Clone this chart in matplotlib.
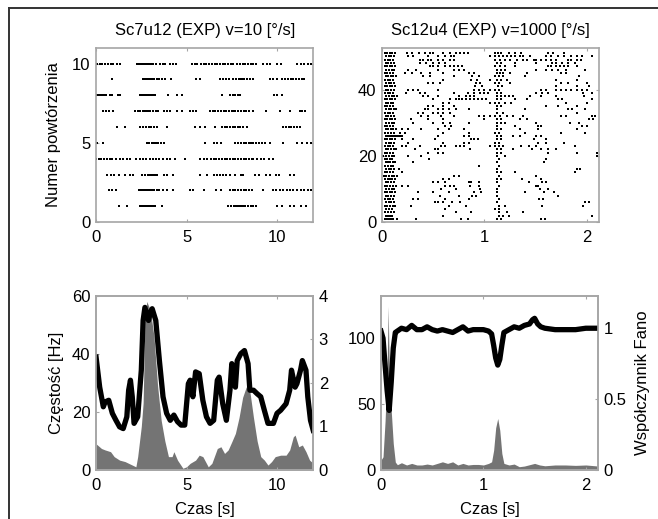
import matplotlib
matplotlib.use("Agg")
import matplotlib.pyplot as plt
from matplotlib.lines import Line2D

plt.rcParams["font.family"] = ["Liberation Sans", "DejaVu Sans"]
plt.rcParams["font.size"] = 12

# ---- data -------------------------------------------------------------
# raster Sc7u12, trials 1..10, spike times [s]
slow_trials = [
    [1.25, 1.7, 2.45, 2.55, 2.65, 2.75, 2.85, 2.95, 3.05, 3.15, 3.25, 3.65,
     7.3, 7.45, 7.6, 7.75, 7.85, 7.95, 8.05, 8.15, 8.25, 8.4, 8.55, 8.7, 8.85,
     10.0, 10.3, 10.7, 10.95, 11.3, 11.6],
    [0.7, 0.9, 1.1, 2.35, 2.5, 2.6, 2.7, 2.8, 2.9, 3.0, 3.1, 3.2, 3.35, 3.5,
     3.7, 3.9, 4.25, 5.2, 5.35, 5.95, 6.65, 6.9, 7.4, 7.55, 7.7, 7.85, 8.0,
     8.15, 8.3, 8.45, 8.6, 9.25, 9.8, 9.95, 10.15, 10.35, 10.55, 10.7, 10.9,
     11.1, 11.3, 11.5, 11.7, 11.9],
    [0.6, 0.85, 1.0, 1.25, 1.6, 1.85, 2.05, 2.55, 2.7, 2.85, 2.95, 3.05, 3.15,
     3.25, 3.35, 3.75, 3.9, 4.25, 5.75, 6.15, 6.5, 6.7, 6.85, 7.0, 7.2, 7.4,
     7.7, 8.0, 8.1, 8.8, 9.0, 9.4, 9.6, 9.95, 10.1, 10.7, 10.95],
    [0.0, 0.15, 0.3, 0.45, 0.6, 0.75, 0.9, 1.1, 1.3, 1.5, 1.7, 1.85, 2.2,
     2.45, 2.6, 2.75, 3.0, 3.15, 3.3, 3.5, 3.7, 3.9, 4.1, 4.35, 4.9, 5.75,
     5.95, 6.15, 6.35, 6.5, 6.65, 6.8, 6.95, 7.1, 7.25, 7.4, 7.55, 7.7, 7.85,
     8.0, 8.15, 8.3, 8.45, 8.6, 8.7, 8.9, 9.1, 9.3, 9.55, 9.8],
    [0.05, 0.4, 2.8, 2.95, 3.1, 3.2, 3.3, 3.45, 3.6, 3.75, 6.0, 6.5, 6.7,
     6.9, 7.7, 7.85, 8.0, 8.15, 8.3, 8.45, 8.55, 8.7, 8.85, 9.0, 9.15, 9.35,
     9.6, 10.35, 11.1, 11.4, 11.65, 11.9],
    [1.15, 1.6, 2.45, 2.6, 2.75, 2.9, 3.05, 3.2, 3.35, 3.9, 5.45, 5.75, 6.0,
     6.6, 6.95, 7.1, 7.25, 7.4, 7.55, 7.7, 7.85, 7.95, 8.1, 8.35, 10.35,
     10.5, 10.65, 10.8, 10.95, 11.1, 11.25],
    [0.4, 0.55, 0.7, 0.95, 2.15, 2.3, 2.45, 2.6, 2.7, 2.8, 2.9, 3.0, 3.15,
     3.3, 3.45, 3.75, 3.9, 4.1, 4.45, 4.75, 5.2, 5.35, 5.5, 6.3, 6.45, 6.6,
     6.75, 6.9, 7.05, 7.2, 7.35, 7.5, 7.6, 7.7, 7.85, 8.0, 8.15, 8.3, 8.45,
     8.65, 9.4, 10.15, 10.7, 11.25, 11.4, 11.55],
    [0.05, 0.15, 0.25, 0.35, 0.45, 0.55, 0.75, 0.9, 1.2, 1.3, 2.45, 2.55,
     2.65, 2.75, 2.85, 2.95, 3.05, 3.15, 3.25, 4.0, 4.45, 4.75, 6.95, 7.4,
     7.55, 7.7, 7.85, 7.95, 9.85, 10.0, 10.25],
    [0.87, 2.6, 2.7, 2.8, 2.9, 3.0, 3.1, 3.2, 3.35, 3.5, 3.65, 3.8, 4.15,
     5.55, 5.75, 6.85, 7.0, 7.2, 7.35, 7.55, 7.75, 7.9, 8.0, 8.1, 8.2, 8.35,
     8.5, 8.65, 9.6, 9.8, 10.0, 10.3, 10.45, 10.6, 10.75, 10.9, 11.05, 11.2,
     11.4, 11.5],
    [0.05, 0.2, 0.35, 0.5, 0.65, 0.8, 0.95, 1.15, 1.35, 2.25, 2.35, 2.45,
     2.55, 2.65, 2.75, 2.85, 2.95, 3.05, 3.15, 3.3, 3.55, 3.7, 3.8, 4.1,
     4.25, 4.4, 5.3, 5.45, 5.6, 5.8, 5.95, 6.1, 6.25, 6.4, 6.55, 6.7, 6.85,
     7.0, 7.15, 7.3, 7.45, 7.55, 7.8, 7.95, 8.1, 8.25, 8.4, 8.55, 8.7, 8.85,
     9.25, 9.45, 9.6, 10.0, 10.2, 11.1, 11.3, 11.5, 11.7, 11.9],
]

# raster Sc12u4, trials 1..51, spike times [s]
fast_trials = [
    [0.03, 0.05, 0.07, 0.09, 0.11, 0.15, 0.33, 0.77, 0.84, 1.12, 1.16, 1.55, 1.59],
    [0.04, 0.06, 0.08, 0.1, 0.6, 1.14, 1.18, 1.24, 2.05],
    [0.03, 0.06, 0.09, 0.12, 0.72, 0.87, 1.14, 1.22, 1.38],
    [0.04, 0.07, 0.1, 0.62, 1.1, 1.14],
    [0.03, 0.05, 0.08, 0.11, 0.13, 0.28, 0.65, 0.82, 1.14, 1.2, 1.56, 1.96],
    [0.04, 0.07, 0.09, 0.12, 0.52, 0.55, 0.6, 0.68, 0.76, 1.12, 1.98, 2.02],
    [0.03, 0.06, 0.08, 0.11, 0.3, 0.35, 0.62, 0.85, 1.14, 1.53, 1.57],
    [0.04, 0.06, 0.09, 0.12, 0.57, 0.75, 0.88, 0.92, 1.12, 1.72],
    [0.03, 0.05, 0.08, 0.1, 0.13, 0.35, 0.5, 0.65, 0.9, 0.97, 1.12, 1.4, 1.58, 1.68],
    [0.04, 0.07, 0.1, 0.12, 0.58, 0.72, 0.96, 1.12, 1.54, 1.62],
    [0.03, 0.05, 0.08, 0.11, 0.14, 0.2, 0.25, 0.62, 0.66, 0.7, 0.86, 0.95, 1.14, 1.5, 1.52],
    [0.04, 0.06, 0.09, 0.12, 0.5, 0.55, 0.62, 0.85, 0.87, 0.95, 1.12, 1.44, 1.56, 1.6],
    [0.03, 0.06, 0.08, 0.1, 0.13, 0.6, 0.65, 1.12, 1.16, 1.37, 1.55],
    [0.02, 0.04, 0.07, 0.1, 0.12, 0.15, 0.7, 0.75, 1.14, 1.5],
    [0.03, 0.05, 0.08, 0.11, 0.2, 1.12, 1.16, 1.3, 1.88],
    [0.04, 0.07, 0.09, 0.12, 0.17, 1.12, 1.9, 1.93],
    [0.03, 0.06, 0.09, 0.11, 0.95, 1.14],
    [0.04, 0.06, 0.08, 0.11, 0.13, 0.3, 1.12, 1.58],
    [0.03, 0.05, 0.08, 0.1, 0.46, 1.14, 1.6],
    [0.01, 0.04, 0.07, 0.1, 0.12, 0.25, 0.38, 1.12, 1.2, 2.1],
    [0.03, 0.05, 0.08, 0.11, 0.45, 0.55, 0.6, 1.12, 1.16, 1.62, 1.9, 2.1],
    [0.04, 0.06, 0.09, 0.12, 0.14, 0.32, 0.52, 0.55, 0.86, 1.12, 1.16, 1.28, 1.46,
     1.55, 1.62, 1.7],
    [0.03, 0.06, 0.08, 0.11, 0.2, 0.23, 0.37, 0.58, 0.62, 0.72, 0.76, 0.8, 1.05,
     1.1, 1.14, 1.18, 1.36, 1.44, 1.5, 1.88],
    [0.04, 0.07, 0.09, 0.12, 0.25, 0.6, 0.8, 0.85, 1.1, 1.14, 1.52, 1.6, 1.78],
    [0.03, 0.05, 0.08, 0.1, 0.13, 0.2, 0.3, 0.52, 0.87, 0.9, 0.94, 1.12, 1.16,
     1.48, 1.6],
    [0.04, 0.06, 0.08, 0.1, 0.12, 0.14, 0.16, 0.18, 0.2, 0.55, 0.8, 0.85, 1.12,
     1.16, 1.28, 1.35, 1.5, 1.55],
    [0.03, 0.06, 0.09, 0.12, 0.18, 0.22, 0.6, 0.85, 1.1, 1.14, 1.4, 1.75, 1.98],
    [0.04, 0.06, 0.09, 0.11, 0.14, 0.2, 0.25, 0.38, 0.55, 0.65, 0.8, 1.12, 1.16,
     1.35, 1.52, 1.9],
    [0.03, 0.05, 0.08, 0.11, 0.62, 0.67, 1.12, 1.3, 1.52, 1.55, 1.95, 2.0],
    [0.04, 0.07, 0.1, 0.12, 0.3, 0.5, 0.6, 0.66, 0.85, 1.12, 1.16, 1.2, 1.5,
     1.84, 1.92],
    [0.03, 0.05, 0.08, 0.1, 0.13, 0.28, 0.45, 0.6, 1.0, 1.12, 1.16, 1.35, 1.42,
     2.02, 2.06],
    [0.04, 0.06, 0.09, 0.12, 0.38, 0.45, 0.58, 0.7, 0.95, 1.0, 1.05, 1.1, 1.15,
     1.22, 1.28, 1.38, 1.75, 1.8, 2.05, 2.08],
    [0.03, 0.06, 0.08, 0.11, 0.35, 0.4, 0.5, 0.55, 0.6, 0.66, 1.12, 1.18, 1.9],
    [0.04, 0.07, 0.09, 0.12, 0.14, 0.42, 0.45, 0.55, 0.6, 0.65, 0.72, 0.85, 1.12,
     1.4, 1.82, 1.86, 1.98],
    [0.03, 0.05, 0.08, 0.11, 0.45, 0.5, 0.6, 0.7, 1.12, 1.16, 1.6, 1.72, 1.9],
    [0.04, 0.06, 0.09, 0.11, 0.6, 0.65, 1.05, 1.1, 1.14, 1.2, 1.26, 1.8, 2.0],
    [0.03, 0.05, 0.08, 0.1, 0.13, 0.5, 0.66, 0.72, 0.75, 0.78, 0.82, 0.86, 0.9,
     0.94, 0.98, 1.02, 1.12, 1.16, 1.3, 1.42, 1.72, 1.76, 2.05],
    [0.04, 0.07, 0.1, 0.12, 0.15, 0.4, 0.45, 0.55, 0.75, 0.82, 0.86, 0.9, 1.12,
     1.16, 1.2, 1.24, 1.28, 1.45, 1.55, 1.7, 1.97],
    [0.03, 0.06, 0.08, 0.11, 0.23, 0.37, 0.42, 0.7, 0.84, 0.9, 0.96, 1.0, 1.04,
     1.12, 1.16, 1.5, 1.56, 1.62, 1.96, 2.05],
    [0.04, 0.06, 0.09, 0.12, 0.25, 0.3, 0.35, 0.55, 0.9, 0.95, 1.0, 1.05, 1.1,
     1.14, 1.55, 1.6, 1.7, 1.75, 1.8, 1.85, 1.9, 1.95, 2.0],
    [0.03, 0.05, 0.08, 0.1, 0.13, 0.91, 0.98, 1.13, 1.17, 1.7, 1.9, 2.02],
    [0.04, 0.07, 0.09, 0.12, 0.45, 0.5, 0.57, 0.92, 0.96, 1.1, 1.14, 1.25, 1.75,
     1.82, 2.0],
    [0.03, 0.06, 0.08, 0.11, 0.6, 0.87, 0.93, 1.05, 1.12, 1.16, 1.22, 1.7, 1.9],
    [0.04, 0.06, 0.09, 0.11, 0.14, 0.4, 0.47, 0.7, 0.88, 0.95, 1.1, 1.14, 1.18,
     1.4, 1.92],
    [0.03, 0.05, 0.08, 0.11, 0.22, 0.29, 0.38, 0.47, 0.6, 0.85, 0.9, 1.12, 1.15,
     1.18, 1.25, 1.42, 1.75, 1.8],
    [0.04, 0.07, 0.1, 0.12, 0.25, 0.33, 0.55, 0.7, 0.75, 0.8, 1.12, 1.16, 1.2,
     1.5, 1.6, 1.66, 1.72, 1.8, 1.98],
    [0.03, 0.05, 0.08, 0.1, 0.13, 0.47, 0.5, 0.55, 0.62, 0.66, 0.7, 0.74, 0.78,
     1.1, 1.15, 1.2, 1.3, 1.62, 1.65, 1.7, 1.74, 1.78, 1.82, 1.9],
    [0.04, 0.06, 0.09, 0.12, 0.37, 0.43, 0.5, 0.56, 0.62, 1.12, 1.16, 1.3, 1.5,
     1.66, 1.7, 1.76, 1.82, 1.88],
    [0.03, 0.06, 0.08, 0.11, 0.37, 0.4, 0.45, 0.48, 0.55, 0.6, 0.66, 0.7, 1.1,
     1.15, 1.2, 1.25, 1.32, 1.38, 1.42, 1.48, 1.5, 1.55, 1.6, 1.65, 1.7, 1.82,
     1.85, 1.9, 1.94],
    [0.04, 0.07, 0.09, 0.12, 0.25, 0.3, 0.45, 0.55, 0.62, 0.67, 0.7, 1.05, 1.1,
     1.14, 1.18, 1.22, 1.26, 1.3, 1.35, 1.38, 1.45, 1.6, 1.65, 1.72, 1.78, 1.85,
     1.9, 1.95, 2.05],
    [0.03, 0.05, 0.08, 0.1, 0.13, 0.24, 0.29, 0.36, 0.42, 0.47, 0.5, 0.6, 0.66,
     0.72, 0.76, 0.8, 0.84, 1.1, 1.13, 1.16, 1.24, 1.3, 1.36, 1.62, 1.67, 1.78],
]

# PSTH + Fano factor, Sc7u12
slow_t = [0, 0.3, 0.5, 0.8, 1.0, 1.3, 1.6, 1.8, 2.0, 2.2, 2.3, 2.5, 2.6, 2.7,
          2.8, 3.0, 3.2, 3.4, 3.6, 3.8, 4.0, 4.2, 4.3, 4.5, 4.8, 5.0, 5.2, 5.5,
          5.7, 5.9, 6.2, 6.4, 6.7, 6.9, 7.1, 7.3, 7.5, 7.7, 7.9, 8.1, 8.3, 8.5,
          8.7, 8.9, 9.1, 9.3, 9.5, 9.7, 9.9, 10.2, 10.5, 10.7, 10.9, 11.0, 11.2,
          11.4, 11.6, 11.8, 12.0]
slow_rate = [9, 7.4, 6.9, 6.3, 4.6, 3.4, 2.9, 2.3, 1.7, 1.1, 4.6, 15, 23, 51,
             58, 55, 46, 29, 17, 10, 4.6, 4.6, 6.3, 3.4, 0.6, 1.1, 2.3, 3.4,
             5.1, 4.6, 1.1, 2.3, 7.4, 8.0, 5.7, 6.9, 9.7, 12.6, 18, 25, 28.6,
             27, 18, 10, 4.6, 3.4, 1.7, 2.9, 4.6, 5.1, 5.1, 6.9, 11.4, 12, 8,
             8.6, 6.3, 3.4, 2.3]
slow_fano_t = [0, 0.2, 0.4, 0.5, 0.7, 0.9, 1.1, 1.3, 1.5, 1.7, 1.8, 1.9, 2.0,
               2.1, 2.3, 2.5, 2.6, 2.7, 2.9, 3.0, 3.1, 3.3, 3.5, 3.7, 3.9, 4.1,
               4.3, 4.5, 4.7, 4.9, 5.1, 5.2, 5.35, 5.5, 5.7, 5.9, 6.1, 6.3, 6.5,
               6.7, 6.8, 7.0, 7.2, 7.4, 7.5, 7.6, 7.7, 7.8, 8.0, 8.2, 8.4, 8.5,
               8.7, 8.9, 9.1, 9.3, 9.5, 9.8, 10.0, 10.2, 10.5, 10.7, 10.8, 11.0,
               11.1, 11.3, 11.4, 11.6, 11.7, 11.85, 12.0]
slow_fano = [2.59, 1.9, 1.45, 1.56, 1.6, 1.3, 1.14, 0.99, 0.95, 1.22, 1.83,
             2.06, 1.68, 1.07, 1.22, 2.29, 3.43, 3.73, 3.43, 3.62, 3.7, 3.43,
             2.51, 1.68, 1.3, 1.14, 1.26, 1.11, 1.03, 1.03, 1.98, 2.06, 1.68,
             2.25, 2.21, 1.6, 1.22, 1.07, 1.14, 2.06, 2.13, 1.52, 1.14, 1.83,
             2.44, 2.29, 1.9, 2.51, 2.67, 2.74, 2.44, 1.83, 1.83, 1.75, 1.68,
             1.37, 1.07, 1.07, 1.3, 1.37, 1.52, 1.83, 2.29, 1.9, 1.98, 2.29,
             2.51, 2.29, 1.68, 1.14, 0.91]

# PSTH + Fano factor, Sc12u4
fast_t = [0, 0.02, 0.04, 0.06, 0.07, 0.08, 0.1, 0.12, 0.14, 0.16, 0.2, 0.25,
          0.3, 0.35, 0.4, 0.45, 0.5, 0.55, 0.6, 0.65, 0.7, 0.75, 0.8, 0.85, 0.9,
          0.95, 1.0, 1.05, 1.08, 1.1, 1.12, 1.14, 1.16, 1.18, 1.2, 1.25, 1.3,
          1.35, 1.4, 1.5, 1.55, 1.6, 1.7, 1.8, 1.9, 2.0, 2.12]
fast_rate = [7.5, 10, 37, 75, 124, 80, 45, 20, 6, 4, 5.5, 3.8, 5, 3.8, 3.8,
             4.5, 3.8, 5, 6.2, 5, 6.2, 3.8, 5, 3.8, 4.2, 4.2, 3.8, 5, 6.2, 15,
             32, 39, 30, 12.5, 5, 3.8, 4.5, 2.5, 3, 5, 3.8, 3.2, 3.8, 3.8, 3.5,
             3.8, 3]
fast_fano_t = [0, 0.02, 0.04, 0.06, 0.08, 0.1, 0.12, 0.14, 0.16, 0.2, 0.25,
               0.3, 0.35, 0.4, 0.45, 0.5, 0.55, 0.6, 0.65, 0.7, 0.75, 0.8, 0.85,
               0.9, 0.95, 1.0, 1.05, 1.08, 1.1, 1.12, 1.14, 1.16, 1.18, 1.2,
               1.25, 1.3, 1.35, 1.4, 1.45, 1.48, 1.5, 1.53, 1.56, 1.6, 1.7, 1.8,
               1.9, 2.0, 2.1]
fast_fano = [0.98, 0.93, 0.74, 0.56, 0.42, 0.62, 0.86, 0.97, 0.98, 1.0, 0.99,
             1.02, 0.99, 0.99, 1.01, 0.99, 0.98, 0.99, 0.98, 0.97, 0.99, 1.01,
             0.98, 0.99, 0.99, 0.99, 0.98, 0.96, 0.88, 0.79, 0.74, 0.78, 0.88,
             0.97, 0.99, 1.01, 1.0, 1.02, 1.03, 1.06, 1.07, 1.03, 1.01, 1.0,
             0.99, 0.99, 0.99, 1.0, 1.0]

SPINE = "#a6a6a6"
FILL = "#747474"


def style(ax, right=True):
    for s in ax.spines.values():
        s.set_color(SPINE)
        s.set_linewidth(1.2)
    ax.tick_params(direction="in", length=2.5, color=SPINE, top=True,
                   right=right, labelsize=12, pad=4)
    ax.tick_params(axis="x", pad=6)


def raster(ax, trials):
    for i, times in enumerate(trials, start=1):
        ax.plot(times, [i] * len(times), "s", color="black", markersize=1.9,
                markeredgewidth=0)


fig = plt.figure(figsize=(6.58, 5.19), dpi=100)

# frame around the panel group (cropped at right/bottom in the original)
fig.add_artist(Line2D([0.014, 0.014], [0.0, 0.984], color="#333333", lw=1.4))
fig.add_artist(Line2D([0.014, 1.0], [0.984, 0.984], color="#333333", lw=1.4))

W, H = 0.330, 0.336
ax1 = fig.add_axes([0.146, 0.572, W, H])
ax2 = fig.add_axes([0.5805, 0.572, W, H])
ax3 = fig.add_axes([0.146, 0.0944, W, H])
ax4 = fig.add_axes([0.579, 0.0944, W, H])

# ---- rasters ----------------------------------------------------------
raster(ax1, slow_trials)
ax1.set_xlim(0, 12)
ax1.set_ylim(0, 11)
ax1.set_xticks([0, 5, 10])
ax1.set_yticks([0, 5, 10])
ax1.set_ylabel("Numer powtórzenia", labelpad=8)
ax1.set_title("Sc7u12 (EXP) v=10 [°/s]", pad=9, fontsize=12)
style(ax1)

raster(ax2, fast_trials)
ax2.set_xlim(0, 2.12)
ax2.set_ylim(0, 52.6)
ax2.set_xticks([0, 1, 2])
ax2.set_yticks([0, 20, 40])
ax2.set_title("Sc12u4 (EXP) v=1000 [°/s]", pad=9, fontsize=12)
style(ax2)

# ---- PSTH + Fano ------------------------------------------------------
ax3.fill_between(slow_t, slow_rate, 0, color=FILL, linewidth=0)
ax3.set_xlim(0, 12)
ax3.set_ylim(0, 60)
ax3.set_xticks([0, 5, 10])
ax3.set_yticks([0, 20, 40, 60])
ax3.set_ylabel("Częstość [Hz]", labelpad=6)
ax3.set_xlabel("Czas [s]", labelpad=6)
style(ax3, right=False)
ax3b = ax3.twinx()
ax3b.plot(slow_fano_t, slow_fano, color="black", lw=3.8, solid_joinstyle="round")
ax3b.set_ylim(0, 4)
ax3b.set_yticks([0, 1, 2, 3, 4])
style(ax3b)
ax3b.tick_params(left=False, top=False)

ax4.fill_between(fast_t, fast_rate, 0, color=FILL, linewidth=0)
ax4.set_xlim(0, 2.12)
ax4.set_ylim(0, 132)
ax4.set_xticks([0, 1, 2])
ax4.set_yticks([0, 50, 100])
ax4.set_xlabel("Czas [s]", labelpad=6)
style(ax4, right=False)
ax4b = ax4.twinx()
ax4b.plot(fast_fano_t, fast_fano, color="black", lw=3.8, solid_joinstyle="round")
ax4b.set_ylim(0, 1.23)
ax4b.set_yticks([0, 0.5, 1])
ax4b.set_yticklabels(["0", "0.5", "1"])
ax4b.set_ylabel("Współczynnik Fano", labelpad=6)
style(ax4b)
ax4b.tick_params(left=False, top=False)

fig.savefig("out.png", dpi=100)
